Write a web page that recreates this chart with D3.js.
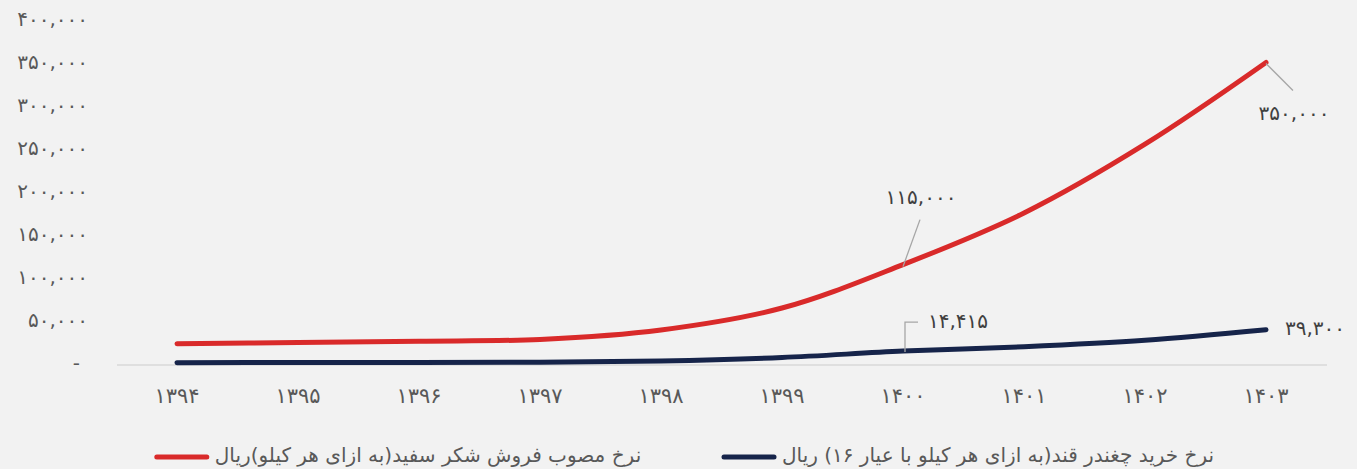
<!DOCTYPE html>
<html>
<head>
<meta charset="utf-8">
<script src="https://cdn.jsdelivr.net/npm/d3@7"></script>
<style>
  html, body { margin: 0; padding: 0; background: #f2f2f2; }
  svg { display: block; }
  text { font-family: "DejaVu Sans", sans-serif; }
</style>
</head>
<body>
<svg id="chart" width="1357" height="469"></svg>
<script>
// ---- data ----
const years = ["۱۳۹۴","۱۳۹۵","۱۳۹۶","۱۳۹۷","۱۳۹۸","۱۳۹۹","۱۴۰۰","۱۴۰۱","۱۴۰۲","۱۴۰۳"];
const sugarPrice = [23000, 24500, 26000, 28000, 39000, 64500, 115000, 175000, 255000, 350000];
const beetPrice = [1000, 1100, 1200, 1500, 3000, 7000, 14415, 19500, 27000, 39300];
const yTicks = [0, 50000, 100000, 150000, 200000, 250000, 300000, 350000, 400000];
const seriesNames = ["نرخ مصوب فروش شکر سفید(به ازای هر کیلو)ریال", "نرخ خرید چغندر قند(به ازای هر کیلو با عیار ۱۶) ریال"];
const seriesColors = ["#d92a2a", "#16244a"];

const faDigits = "۰۱۲۳۴۵۶۷۸۹";
const toFa = s => String(s).replace(/[0-9]/g, d => faDigits[+d]);
const fmt = v => v === 0 ? "-" : toFa(d3.format(",")(v));

const svg = d3.select("#chart");
const x = d3.scaleBand().domain(years).range([116.5, 1326.5]);
const y = d3.scaleLinear().domain([0, 400000]).range([363.5, 19.5]);
const cx = d => x(d) + x.bandwidth() / 2;

// y axis labels
const yAxis = d3.axisLeft(y).tickValues(yTicks).tickFormat(fmt).tickSize(0).tickPadding(0);
const yg = svg.append("g").attr("transform", "translate(88,0)").call(yAxis);
yg.select(".domain").remove();
yg.selectAll("text").attr("fill", "#595959").style("font-size", "20px")
  .attr("font-family", "DejaVu Sans");
yg.selectAll(".tick").filter(d => d === 0).select("text").attr("dx", -8);

// x axis
const xAxis = d3.axisBottom(x).tickFormat(d => d).tickSize(0).tickPadding(0);
const xg = svg.append("g").attr("transform", "translate(0,364.5)").call(xAxis);
xg.select(".domain").attr("stroke", "#d9d9d9").attr("stroke-width", 1.5);
xg.selectAll("text").attr("fill", "#595959").style("font-size", "21px")
  .attr("font-family", "DejaVu Sans").attr("dy", "1.85em");

// lines
const line = d3.line().x((d, i) => cx(years[i])).y(d => y(d)).curve(d3.curveCatmullRom.alpha(0.5));
[sugarPrice, beetPrice].forEach((s, k) => {
  svg.append("path").datum(s).attr("d", line)
    .attr("fill", "none").attr("stroke", seriesColors[k]).attr("stroke-width", 5)
    .attr("stroke-linecap", "round").attr("stroke-linejoin", "round");
});

// annotations
const ann = svg.append("g").attr("fill", "#404040").style("font-size", "20px");
const lead = "#a6a6a6";
function label(xx, yy, txt, anchor) {
  ann.append("text").attr("x", xx).attr("y", yy).attr("dy", "0.35em")
    .attr("text-anchor", anchor).text(txt);
}
// 1400 red
{
  const px = cx(years[6]), py = y(sugarPrice[6]);
  svg.append("line").attr("x1", px).attr("y1", py + 2).attr("x2", px + 17).attr("y2", py - 45)
    .attr("stroke", lead).attr("stroke-width", 1.3);
  label(px + 18, py - 68, toFa("115,000"), "middle");
}
// 1400 navy
{
  const px = cx(years[6]), py = y(beetPrice[6]);
  svg.append("path").attr("d", `M${px + 2},${py + 1}V${py - 29}H${px + 15}`)
    .attr("fill", "none").attr("stroke", lead).attr("stroke-width", 1.3);
  label(px + 25, py - 30, toFa("14,415"), "start");
}
// 1403 red
{
  const px = cx(years[9]), py = y(sugarPrice[9]);
  svg.append("line").attr("x1", px).attr("y1", py + 1).attr("x2", px + 27).attr("y2", py + 28)
    .attr("stroke", lead).attr("stroke-width", 1.3);
  label(px + 28, py + 50, toFa("350,000"), "middle");
}
// 1403 navy
{
  const px = cx(years[9]), py = y(beetPrice[9]);
  label(px + 19, py - 2, toFa("39,300"), "start");
}

// legend
const legendCenters = [428, 998];
seriesNames.forEach((name, k) => {
  const t = svg.append("text").attr("x", legendCenters[k]).attr("y", 455).attr("dy", "0.35em")
    .attr("text-anchor", "middle").attr("direction", "rtl").attr("fill", "#595959")
    .style("font-size", "20px").text(name);
  const bb = t.node().getBBox();
  svg.append("line").attr("x1", bb.x - 58).attr("x2", bb.x - 8).attr("y1", 457).attr("y2", 457)
    .attr("stroke", seriesColors[k]).attr("stroke-width", 5).attr("stroke-linecap", "round");
});
</script>
</body>
</html>
